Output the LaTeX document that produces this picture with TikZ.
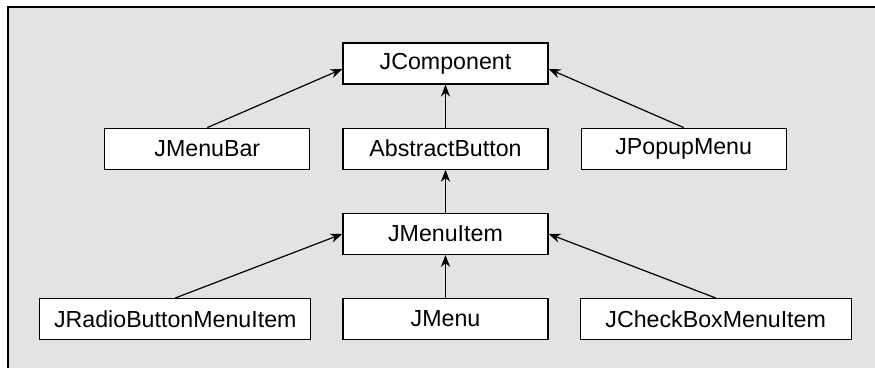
\documentclass[tikz,border=0pt]{standalone}
\usepackage{fontspec}
\setmainfont{Liberation Sans}
\usetikzlibrary{arrows.meta,positioning}
\definecolor{panelgray}{HTML}{E3E3E3}
\tikzset{
    classbox/.style={draw, fill=white, line width=0.6pt, inner sep=0pt,
        minimum width=102.5pt, minimum height=20.5pt,
        font=\fontsize{11.6}{13}\selectfont},
    wideclassbox/.style={classbox, minimum width=135.5pt},
    inheritarrow/.style={-{Stealth[length=6pt, width=4.6pt]}, line width=0.6pt}
}

\begin{document}
\begin{tikzpicture}[x=0.5pt, y=-0.5pt, node distance=21.5pt]
\useasboundingbox (0,0) rectangle (875,368);
\fill[panelgray] (8,7) rectangle (875,368);
\draw[line width=1pt] (8,368) -- (8,7) -- (875,7);
\node[classbox] (jcomponent) at (445.5,63.5) {JComponent};
\node[classbox, below=of jcomponent] (abstractbutton) {AbstractButton};
\node[classbox, left=16pt of abstractbutton] (jmenubar) {JMenuBar};
\node[classbox, right=16pt of abstractbutton] (jpopupmenu) {JPopupMenu};
\node[classbox, below=of abstractbutton] (jmenuitem) {JMenuItem};
\node[classbox, below=of jmenuitem] (jmenu) {JMenu};
\node[wideclassbox, left=15.5pt of jmenu] (jradioitem) {JRadioButtonMenuItem};
\node[wideclassbox, right=15.5pt of jmenu] (jcheckitem) {JCheckBoxMenuItem};
\draw[inheritarrow] (jmenubar.north) -- (jcomponent.183);
\draw[inheritarrow] (abstractbutton) -- (jcomponent);
\draw[inheritarrow] (jpopupmenu.north) -- (jcomponent.357);
\draw[inheritarrow] (jmenuitem) -- (abstractbutton);
\draw[inheritarrow] (jradioitem.north) -- (jmenuitem.west);
\draw[inheritarrow] (jmenu) -- (jmenuitem);
\draw[inheritarrow] (jcheckitem.north) -- (jmenuitem.east);
\end{tikzpicture}
\end{document}
